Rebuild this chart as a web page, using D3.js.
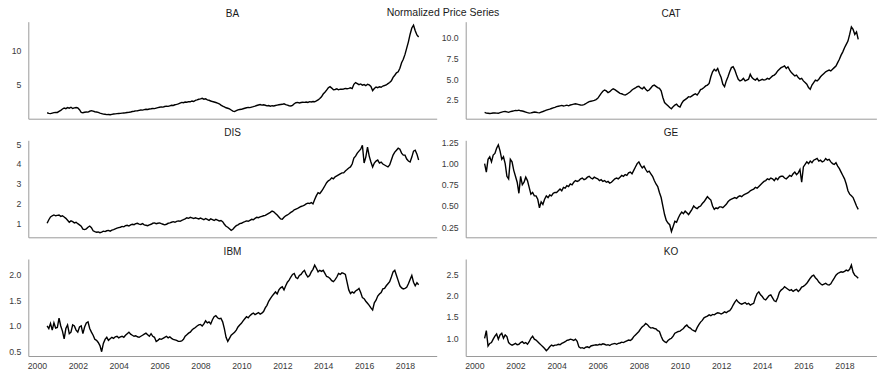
<!DOCTYPE html>
<html>
<head>
<meta charset="utf-8">
<script src="https://cdn.jsdelivr.net/npm/d3@7"></script>
<style>
  html, body { margin: 0; padding: 0; background: #fff; }
  svg { display: block; }
  text { font-family: "Liberation Sans", Arial, sans-serif; }
</style>
</head>
<body>
<svg id="chart" width="886" height="379"></svg>
<script>
// ---- data: monthly normalized closes, Jul 2000 .. Sep 2018 ----
const startYear = 2000.5;
const tickers = ["BA", "CAT", "DIS", "GE", "IBM", "KO"];
const xTicks = [2000, 2002, 2004, 2006, 2008, 2010, 2012, 2014, 2016, 2018];

const BA = [
  1.00, 0.92, 0.88, 0.95, 1.02, 1.05,
  1.05, 1.20, 1.35, 1.55, 1.68, 1.60, 1.75, 1.66, 1.80, 1.62, 1.70, 1.76,
  1.70, 1.45, 1.05, 1.00, 1.08, 1.12, 1.10, 1.22, 1.30, 1.25, 1.15, 1.12,
  1.05, 0.95, 0.88, 0.80, 0.78, 0.74, 0.76, 0.72, 0.78, 0.82, 0.85, 0.88,
  0.90, 0.92, 0.95, 0.98, 1.00, 1.05, 1.08, 1.12, 1.18, 1.22, 1.28, 1.30,
  1.35, 1.40, 1.38, 1.45, 1.50, 1.48, 1.55, 1.58, 1.62, 1.60, 1.68, 1.75,
  1.80, 1.85, 1.82, 1.90, 1.95, 1.92, 2.00, 2.08, 2.05, 2.15, 2.20, 2.28,
  2.40, 2.50, 2.45, 2.55, 2.52, 2.60, 2.58, 2.70, 2.62, 2.78, 2.85, 2.95,
  3.00, 3.08, 2.95, 3.02, 2.85, 2.80, 2.70, 2.62, 2.55, 2.48, 2.40, 2.30,
  2.10, 1.95, 1.85, 1.72, 1.65, 1.55, 1.40, 1.25, 1.18, 1.30, 1.42, 1.48,
  1.50, 1.58, 1.65, 1.72, 1.78, 1.75, 1.82, 1.88, 1.95, 2.05, 2.12, 2.18,
  2.10, 2.15, 2.08, 2.00, 2.05, 1.95, 2.02, 1.98, 2.05, 2.10, 2.15, 2.20,
  2.22, 2.30, 2.18, 2.10, 2.02, 1.98, 2.08, 2.30, 2.45, 2.50, 2.42, 2.48,
  2.52, 2.50, 2.55, 2.48, 2.60, 2.55, 2.62, 2.58, 2.70, 2.85, 3.05, 3.30,
  3.70, 3.95, 4.25, 4.60, 4.75, 4.55, 4.30, 4.35, 4.45, 4.30, 4.40, 4.38,
  4.42, 4.50, 4.45, 4.52, 4.60, 4.48, 5.10, 5.35, 5.20, 5.05, 5.15, 4.98,
  5.05, 4.90, 5.10, 5.00, 4.80, 4.20, 4.50, 4.70, 4.62, 4.75, 4.68, 4.85,
  4.92, 5.00, 5.20, 5.35, 5.60, 6.10, 6.40, 6.75, 6.90, 7.40, 8.20, 8.70,
  9.40, 10.30, 11.20, 12.30, 13.20, 13.60, 12.80, 12.20, 11.90
];
const CAT = [
  1.00, 0.92, 0.90, 0.88, 0.90, 0.94,
  0.95, 0.92, 0.90, 0.98, 1.05, 1.10, 1.12, 1.08, 1.02, 1.10, 1.15, 1.20,
  1.25, 1.22, 1.28, 1.20, 1.18, 1.12, 1.05, 0.98, 0.92, 0.95, 1.00, 1.05,
  1.02, 0.98, 0.95, 1.05, 1.12, 1.20, 1.28, 1.35, 1.40, 1.48, 1.55, 1.62,
  1.70, 1.75, 1.80, 1.85, 1.78, 1.82, 1.88, 1.80, 1.90, 1.95, 2.00, 2.05,
  2.00, 1.95, 1.90, 1.88, 1.95, 2.05, 2.20, 2.30, 2.35, 2.40, 2.45, 2.55,
  2.70, 3.00, 3.30, 3.55, 3.70, 3.60, 3.40, 3.50, 3.70, 3.85, 3.75, 3.60,
  3.45, 3.30, 3.25, 3.15, 3.10, 3.20, 3.35, 3.50, 3.70, 3.85, 3.95, 4.10,
  4.15, 3.95, 3.85, 4.05, 3.80, 3.60, 3.70, 3.95, 4.20, 4.30, 4.15, 4.00,
  3.90, 3.60, 2.80, 2.20, 2.00, 1.80, 1.60, 1.45, 1.70, 1.90, 2.00, 1.75,
  1.65, 2.10, 2.40, 2.55, 2.70, 2.90, 2.85, 3.00, 3.15, 3.25, 3.10, 3.40,
  3.75, 3.85, 4.00, 4.20, 4.30, 4.50, 5.30, 5.90, 6.20, 6.00, 6.30, 5.70,
  5.20, 4.40, 4.10, 4.80, 5.30, 5.90, 6.40, 6.50, 6.10, 5.50, 5.00, 4.80,
  4.90, 5.10, 4.80, 4.90, 5.00, 5.60, 5.20, 5.00, 4.90, 5.10, 4.80, 4.90,
  5.00, 4.90, 4.95, 5.10, 5.00, 5.20, 5.40, 5.50, 5.70, 6.00, 6.20, 6.40,
  6.50, 6.60, 6.30, 6.50, 6.10, 5.80, 5.60, 5.40, 5.50, 5.20, 5.00, 5.10,
  4.80, 4.60, 4.40, 4.00, 3.80, 4.30, 4.60, 4.90, 4.80, 5.00, 5.30, 5.50,
  5.70, 5.90, 6.00, 6.10, 6.00, 6.20, 6.40, 6.60, 7.00, 7.40, 7.90, 8.30,
  8.80, 9.20, 9.60, 10.40, 11.30, 11.00, 10.40, 10.70, 9.80
];
const DIS = [
  1.00, 1.18, 1.32, 1.38, 1.42, 1.38,
  1.40, 1.42, 1.35, 1.38, 1.32, 1.25, 1.15, 1.05, 1.12, 1.08, 1.02, 1.05,
  0.98, 0.92, 0.85, 0.70, 0.68, 0.72, 0.80, 0.86, 0.78, 0.62, 0.58, 0.55,
  0.56, 0.52, 0.55, 0.60, 0.58, 0.62, 0.64, 0.60, 0.65, 0.68, 0.72, 0.75,
  0.78, 0.80, 0.84, 0.82, 0.88, 0.90, 0.86, 0.92, 0.95, 0.93, 0.98, 1.00,
  0.96, 0.94, 0.98, 0.92, 0.90, 0.88, 0.92, 0.95, 1.00, 1.02, 0.98, 1.00,
  1.02, 0.98, 0.95, 0.92, 0.95, 1.00, 1.02, 1.05, 1.08, 1.05, 1.10, 1.12,
  1.10, 1.15, 1.18, 1.22, 1.28, 1.25, 1.30, 1.27, 1.24, 1.28, 1.25, 1.22,
  1.26, 1.22, 1.18, 1.24, 1.20, 1.15, 1.22, 1.18, 1.14, 1.20, 1.16, 1.12,
  1.14, 1.08, 0.95, 0.85, 0.80, 0.72, 0.64, 0.70, 0.80, 0.88, 0.92, 0.98,
  1.00, 1.05, 1.08, 1.12, 1.10, 1.15, 1.20, 1.18, 1.25, 1.30, 1.28, 1.32,
  1.35, 1.38, 1.40, 1.45, 1.50, 1.55, 1.62, 1.58, 1.50, 1.42, 1.32, 1.22,
  1.20, 1.30, 1.38, 1.42, 1.48, 1.55, 1.60, 1.68, 1.72, 1.75, 1.80, 1.85,
  1.88, 1.92, 1.98, 2.02, 2.00, 2.05, 1.98, 2.20, 2.40, 2.55, 2.50, 2.62,
  2.75, 2.90, 3.05, 3.15, 3.20, 3.30, 3.25, 3.35, 3.40, 3.45, 3.50, 3.55,
  3.55, 3.65, 3.72, 3.80, 3.85, 4.00, 4.30, 4.40, 4.55, 4.65, 4.75, 4.95,
  4.05, 4.35, 4.85, 4.40, 4.10, 3.85, 4.05, 4.15, 4.20, 4.05, 4.10, 4.00,
  3.95, 3.90, 3.85, 3.95, 4.20, 4.45, 4.60, 4.70, 4.80, 4.75, 4.55, 4.45,
  4.45, 4.25, 4.15, 4.10, 4.35, 4.65, 4.70, 4.50, 4.20
];
const GE = [
  1.00, 0.90, 1.05, 1.08, 1.02, 1.10,
  1.12, 1.18, 1.22, 1.15, 1.05, 1.08, 1.00, 0.85, 0.82, 1.05, 1.02, 0.92,
  0.85, 0.78, 0.65, 0.85, 0.75, 0.78, 0.84, 0.80, 0.72, 0.64, 0.66, 0.62,
  0.62, 0.58, 0.48, 0.55, 0.52, 0.58, 0.62, 0.60, 0.63, 0.62, 0.65, 0.66,
  0.66, 0.68, 0.70, 0.68, 0.72, 0.71, 0.74, 0.73, 0.76, 0.75, 0.78, 0.80,
  0.79, 0.80, 0.82, 0.83, 0.81, 0.82, 0.84, 0.85, 0.83, 0.82, 0.84, 0.83,
  0.82, 0.80, 0.81, 0.79, 0.80, 0.78, 0.79, 0.77, 0.78, 0.80, 0.82, 0.83,
  0.82, 0.84, 0.86, 0.85, 0.87, 0.86, 0.89, 0.90, 0.88, 0.92, 0.96, 1.00,
  1.02, 0.98, 0.95, 0.97, 0.93, 0.90, 0.91, 0.88, 0.85, 0.80, 0.76, 0.73,
  0.66, 0.60, 0.50, 0.40, 0.33, 0.30, 0.28, 0.20, 0.26, 0.32, 0.31, 0.36,
  0.40, 0.43, 0.41, 0.44, 0.42, 0.40, 0.43, 0.46, 0.50, 0.48, 0.47, 0.49,
  0.50, 0.53, 0.55, 0.58, 0.61, 0.59, 0.57, 0.50, 0.46, 0.48, 0.47, 0.49,
  0.49, 0.48, 0.50, 0.52, 0.55, 0.57, 0.58, 0.59, 0.60, 0.59, 0.61, 0.62,
  0.61, 0.63, 0.64, 0.65, 0.66, 0.68, 0.69, 0.70, 0.72, 0.71, 0.73, 0.75,
  0.77, 0.79, 0.80, 0.82, 0.81, 0.83, 0.82, 0.80, 0.83, 0.81, 0.84, 0.85,
  0.85, 0.83, 0.82, 0.84, 0.86, 0.85, 0.88, 0.90, 0.87, 0.89, 0.93, 0.78,
  0.96, 0.99, 1.02, 1.00, 1.03, 1.01, 1.04, 1.05, 1.06, 1.03, 1.04, 1.02,
  1.03, 1.06, 1.04, 1.05, 1.02, 1.00, 0.99, 1.01, 0.97, 0.94, 0.90, 0.86,
  0.82, 0.76, 0.68, 0.64, 0.62, 0.60, 0.55, 0.50, 0.46
];
const IBM = [
  1.00, 0.95, 1.05, 0.92, 1.06, 0.96,
  0.97, 1.15, 1.00, 0.90, 0.75, 0.95, 1.02, 0.85, 0.88, 1.02, 1.00, 0.92,
  0.88, 0.98, 1.00, 0.85, 0.98, 1.06, 1.08, 0.95, 0.88, 0.82, 0.74, 0.72,
  0.68, 0.62, 0.50, 0.66, 0.74, 0.78, 0.72, 0.75, 0.78, 0.76, 0.79, 0.80,
  0.77, 0.79, 0.80, 0.78, 0.82, 0.85, 0.88, 0.84, 0.82, 0.80, 0.81, 0.79,
  0.78, 0.80, 0.82, 0.84, 0.86, 0.83, 0.80, 0.85, 0.80, 0.78, 0.70, 0.72,
  0.75, 0.74, 0.76, 0.78, 0.80, 0.77, 0.79, 0.76, 0.74, 0.73, 0.72, 0.70,
  0.70, 0.71, 0.74, 0.80, 0.83, 0.86, 0.88, 0.92, 0.95, 0.97, 1.00, 1.02,
  1.03, 1.00, 1.04, 1.10, 1.06, 1.08, 1.04, 1.12, 1.18, 1.20, 1.16, 1.14,
  1.15, 1.08, 0.95, 0.78, 0.70, 0.76, 0.82, 0.85, 0.88, 0.92, 0.98, 1.02,
  1.05, 1.10, 1.14, 1.18, 1.16, 1.20, 1.23, 1.25, 1.22, 1.24, 1.26, 1.23,
  1.25, 1.28, 1.35, 1.40, 1.48, 1.53, 1.58, 1.62, 1.66, 1.62, 1.70, 1.74,
  1.76, 1.70, 1.78, 1.85, 1.89, 1.95, 2.00, 2.02, 1.94, 1.92, 1.98, 2.00,
  2.05, 2.08, 2.00, 1.95, 1.98, 2.05, 2.10, 2.18, 2.12, 2.05, 2.08, 2.06,
  2.08, 2.02, 1.96, 1.95, 1.92, 1.88, 1.86, 1.90, 1.95, 2.02, 2.00, 2.03,
  2.02, 2.00, 1.85, 1.70, 1.63, 1.66, 1.64, 1.68, 1.70, 1.73, 1.65, 1.55,
  1.53, 1.48, 1.44, 1.40, 1.35, 1.31, 1.45, 1.50, 1.58, 1.62, 1.65, 1.72,
  1.73, 1.78, 1.82, 1.86, 1.95, 2.05, 2.08, 1.98, 1.88, 1.78, 1.74, 1.72,
  1.73, 1.75, 1.82, 1.90, 1.98, 1.85, 1.78, 1.84, 1.80
];
const KO = [
  1.00, 1.18, 0.82, 0.88, 0.90, 0.98,
  1.05, 1.10, 0.98, 1.08, 1.12, 1.00, 1.08, 1.04, 0.90, 0.86, 0.84, 0.86,
  0.88, 0.85, 0.86, 0.90, 0.92, 0.88, 0.90, 0.86, 0.92, 1.00, 1.05, 0.98,
  0.96, 0.92, 0.88, 0.84, 0.80, 0.76, 0.71, 0.75, 0.80, 0.84, 0.82, 0.84,
  0.84, 0.86, 0.85, 0.88, 0.90, 0.92, 0.95, 0.96, 0.98, 0.97, 0.95, 0.98,
  0.93, 0.80, 0.77, 0.78, 0.76, 0.79, 0.80, 0.78, 0.82, 0.83, 0.84, 0.85,
  0.84, 0.86, 0.85, 0.87, 0.86, 0.84, 0.85, 0.83, 0.86, 0.87, 0.88, 0.86,
  0.88, 0.89, 0.91, 0.90, 0.92, 0.94, 0.96, 0.95, 0.98, 1.04, 1.08, 1.12,
  1.16, 1.22, 1.27, 1.30, 1.35, 1.32, 1.27, 1.24, 1.25, 1.23, 1.22, 1.18,
  1.16, 1.05, 0.96, 0.92, 0.90, 0.95, 0.98, 1.00, 1.05, 1.12, 1.14, 1.16,
  1.17, 1.20, 1.23, 1.28, 1.31, 1.26, 1.24, 1.20, 1.18, 1.16, 1.25, 1.32,
  1.38, 1.42, 1.48, 1.50, 1.52, 1.55, 1.53, 1.56, 1.55, 1.58, 1.60, 1.59,
  1.57, 1.59, 1.62, 1.60, 1.63, 1.65, 1.70, 1.78, 1.85, 1.90, 1.85, 1.82,
  1.80, 1.82, 1.84, 1.80, 1.82, 1.78, 1.80, 1.82, 1.95, 2.05, 2.09, 2.02,
  1.98, 1.92, 1.90, 1.95, 2.00, 2.02, 1.95, 1.88, 1.86, 1.95, 2.08, 2.13,
  2.16, 2.21, 2.18, 2.15, 2.12, 2.14, 2.10, 2.13, 2.15, 2.10, 2.14, 2.20,
  2.22, 2.25, 2.29, 2.35, 2.41, 2.46, 2.48, 2.42, 2.38, 2.32, 2.28, 2.25,
  2.27, 2.29, 2.26, 2.25, 2.28, 2.35, 2.41, 2.48, 2.52, 2.54, 2.56, 2.55,
  2.57, 2.60, 2.58, 2.62, 2.72, 2.55, 2.48, 2.45, 2.41
];
const series = { BA, CAT, DIS, GE, IBM, KO };

// axis limits and tick values
const yDomains = {
  BA: [0.15, 14.1], CAT: [0.25, 11.93], DIS: [0.29, 5.2],
  GE: [0.132, 1.274], IBM: [0.417, 2.30], KO: [0.585, 2.86]
};
const yTicks = {
  BA: [5, 10], CAT: [2.5, 5, 7.5, 10], DIS: [1, 2, 3, 4, 5],
  GE: [0.25, 0.5, 0.75, 1.0, 1.25], IBM: [0.5, 1.0, 1.5, 2.0], KO: [1.0, 1.5, 2.0, 2.5]
};
const yFormats = { BA: "d", CAT: ".1f", DIS: "d", GE: ".2f", IBM: ".1f", KO: ".1f" };
const xDomain = [1999.58, 2019.55];

// ---- layout ----
const svg = d3.select("#chart");
const colX = [[28.3, 436.7], [465.7, 876.4]];
const rowY = [[21.7, 118.7], [140.3, 237.3], [259, 356]];
const spine = "#9a9a9a";
const tickColor = "#3a3a3a";

svg.append("text")
  .attr("x", 443).attr("y", 15.5)
  .attr("text-anchor", "middle")
  .attr("font-size", 10.5).attr("fill", "#1a1a1a")
  .text("Normalized Price Series");

tickers.forEach((tk, k) => {
  const row = Math.floor(k / 2), col = k % 2;
  const [x0, x1] = colX[col];
  const [y0, y1] = rowY[row];
  const x = d3.scaleLinear().domain(xDomain).range([x0, x1]);
  const y = d3.scaleLinear().domain(yDomains[tk]).range([y1, y0]);
  const g = svg.append("g");

  // title
  g.append("text")
    .attr("x", (x0 + x1) / 2).attr("y", y0 - 4.5)
    .attr("text-anchor", "middle")
    .attr("font-size", 10).attr("fill", "#1a1a1a")
    .text(tk);

  // y axis
  const yAxis = d3.axisLeft(y).tickValues(yTicks[tk])
    .tickFormat(d3.format(yFormats[tk])).tickSize(0).tickPadding(7);
  const ya = g.append("g").attr("transform", `translate(${x0},0)`).call(yAxis);
  ya.select(".domain").attr("stroke", spine).attr("stroke-width", 1);
  ya.selectAll("text").attr("font-size", 8.7).attr("fill", tickColor)
    .attr("font-family", "'Liberation Sans', Arial, sans-serif");

  // x axis
  const xAxis = d3.axisBottom(x).tickValues(row === 2 ? xTicks : [])
    .tickFormat(d3.format("d")).tickSize(0).tickPadding(7);
  const xa = g.append("g").attr("transform", `translate(0,${y1})`).call(xAxis);
  xa.select(".domain").attr("stroke", spine).attr("stroke-width", 1);
  xa.selectAll("text").attr("font-size", 8.7).attr("fill", tickColor)
    .attr("font-family", "'Liberation Sans', Arial, sans-serif");

  // line
  const vals = series[tk];
  const line = d3.line()
    .x((d, i) => x(startYear + i / 12))
    .y(d => y(d));
  g.append("path")
    .datum(vals)
    .attr("fill", "none")
    .attr("stroke", "#000")
    .attr("stroke-width", 1.4)
    .attr("stroke-linejoin", "miter")
    .attr("d", line);
});
</script>
</body>
</html>
